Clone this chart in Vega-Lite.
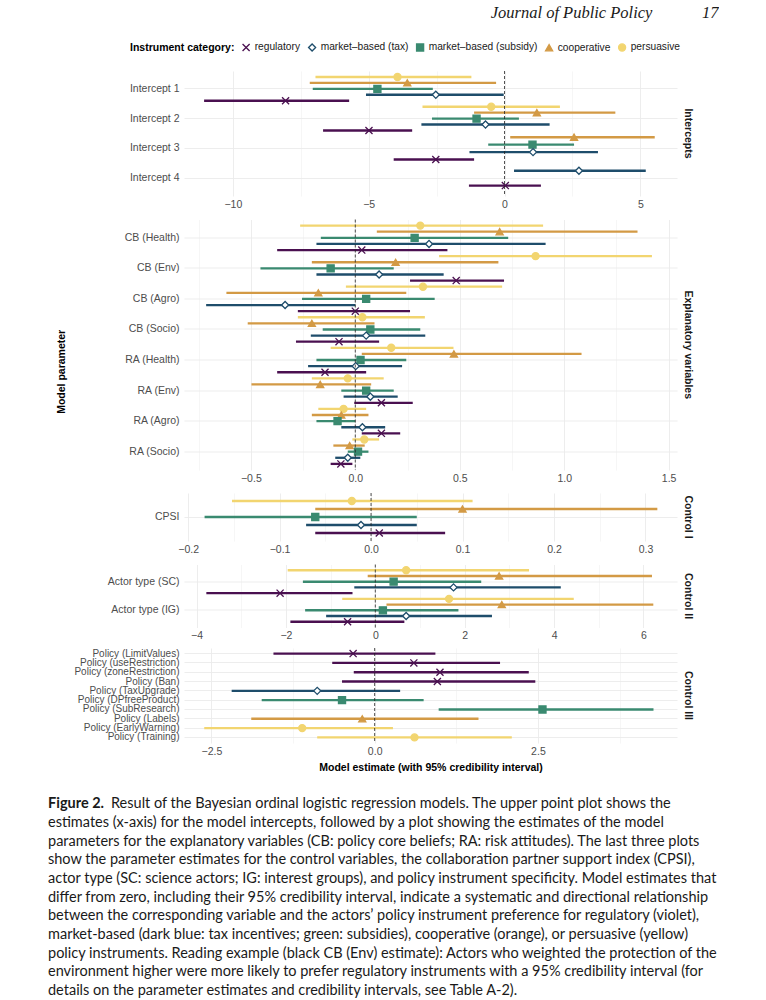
{
  "$schema": "https://vega.github.io/schema/vega-lite/v6.json",
  "padding": {"left": 48, "top": 4, "right": 0, "bottom": 0},
  "background": "white",
  "title": {"text": "Journal of Public Policy\u2003\u2003\u200317", "anchor": "end", "font": "Liberation Serif", "fontStyle": "italic", "fontWeight": "normal", "fontSize": 16.5, "color": "#1A1A1A", "offset": 21},
  "config": {
    "view": {"stroke": null},
    "font": "Liberation Sans",
    "axis": {"domain": false, "ticks": false, "tickSize": 0, "labelFont": "Liberation Sans", "labelFontSize": 10.5, "labelColor": "#4D4D4D", "gridColor": "#EBEBEB", "titleFont": "Liberation Sans", "titleFontSize": 10.5, "titleFontWeight": "bold", "titleColor": "#000000", "titlePadding": 6},
    "axisX": {"labelPadding": 3, "grid": true},
    "axisY": {"labelPadding": 5, "grid": true, "gridWidth": 0.9, "bandPosition": 0.5},
    "legend": {"orient": "none", "legendX": -54, "legendY": -29, "direction": "horizontal", "titleOrient": "left", "titleFont": "Liberation Sans", "titleFontSize": 10.5, "titleFontWeight": "bold", "titleColor": "#000000", "titlePadding": 6, "labelFont": "Liberation Sans", "labelFontSize": 10.2, "labelColor": "#1A1A1A", "labelOffset": 3.5, "columnPadding": 4, "symbolSize": 50, "symbolStrokeWidth": 1.3}
  },
  "datasets": {
    "est": [
      {"panel": "Intercepts", "param": "Intercept 1", "cat": "persuasive", "est": -3.94, "lo": -6.96, "hi": -1.22},
      {"panel": "Intercepts", "param": "Intercept 1", "cat": "cooperative", "est": -3.58, "lo": -7.17, "hi": -0.31},
      {"panel": "Intercepts", "param": "Intercept 1", "cat": "market–based (subsidy)", "est": -4.68, "lo": -7.06, "hi": -2.64},
      {"panel": "Intercepts", "param": "Intercept 1", "cat": "market–based (tax)", "est": -2.53, "lo": -5.10, "hi": -0.03},
      {"panel": "Intercepts", "param": "Intercept 1", "cat": "regulatory", "est": -8.06, "lo": -11.06, "hi": -5.72},
      {"panel": "Intercepts", "param": "Intercept 2", "cat": "persuasive", "est": -0.49, "lo": -3.02, "hi": 2.04},
      {"panel": "Intercepts", "param": "Intercept 2", "cat": "cooperative", "est": 1.19, "lo": -1.12, "hi": 4.08},
      {"panel": "Intercepts", "param": "Intercept 2", "cat": "market–based (subsidy)", "est": -1.03, "lo": -2.67, "hi": 0.53},
      {"panel": "Intercepts", "param": "Intercept 2", "cat": "market–based (tax)", "est": -0.70, "lo": -3.06, "hi": 1.66},
      {"panel": "Intercepts", "param": "Intercept 2", "cat": "regulatory", "est": -4.99, "lo": -6.68, "hi": -3.40},
      {"panel": "Intercepts3", "param": "Intercept 3", "cat": "cooperative", "est": 2.56, "lo": 0.21, "hi": 5.53},
      {"panel": "Intercepts3", "param": "Intercept 3", "cat": "market–based (subsidy)", "est": 1.03, "lo": -0.60, "hi": 2.56},
      {"panel": "Intercepts3", "param": "Intercept 3", "cat": "market–based (tax)", "est": 1.05, "lo": -1.29, "hi": 3.44},
      {"panel": "Intercepts3", "param": "Intercept 3", "cat": "regulatory", "est": -2.53, "lo": -4.08, "hi": -1.12},
      {"panel": "Intercepts4", "param": "Intercept 4", "cat": "market–based (tax)", "est": 2.74, "lo": 0.35, "hi": 5.20},
      {"panel": "Intercepts4", "param": "Intercept 4", "cat": "regulatory", "est": 0.03, "lo": -1.31, "hi": 1.34},

      {"panel": "Explanatory", "param": "CB (Health)", "cat": "persuasive", "est": 0.311, "lo": -0.264, "hi": 0.899},
      {"panel": "Explanatory", "param": "CB (Health)", "cat": "cooperative", "est": 0.691, "lo": 0.103, "hi": 1.351},
      {"panel": "Explanatory", "param": "CB (Health)", "cat": "market–based (subsidy)", "est": 0.284, "lo": -0.165, "hi": 0.732},
      {"panel": "Explanatory", "param": "CB (Health)", "cat": "market–based (tax)", "est": 0.353, "lo": -0.186, "hi": 0.911},
      {"panel": "Explanatory", "param": "CB (Health)", "cat": "regulatory", "est": 0.031, "lo": -0.374, "hi": 0.441},
      {"panel": "Explanatory", "param": "CB (Env)", "cat": "persuasive", "est": 0.863, "lo": 0.401, "hi": 1.420},
      {"panel": "Explanatory", "param": "CB (Env)", "cat": "cooperative", "est": 0.193, "lo": -0.208, "hi": 0.685},
      {"panel": "Explanatory", "param": "CB (Env)", "cat": "market–based (subsidy)", "est": -0.118, "lo": -0.454, "hi": 0.184},
      {"panel": "Explanatory", "param": "CB (Env)", "cat": "market–based (tax)", "est": 0.114, "lo": -0.186, "hi": 0.423},
      {"panel": "Explanatory", "param": "CB (Env)", "cat": "regulatory", "est": 0.483, "lo": 0.262, "hi": 0.712},
      {"panel": "Explanatory", "param": "CB (Agro)", "cat": "persuasive", "est": 0.324, "lo": -0.045, "hi": 0.703},
      {"panel": "Explanatory", "param": "CB (Agro)", "cat": "cooperative", "est": -0.177, "lo": -0.617, "hi": 0.244},
      {"panel": "Explanatory", "param": "CB (Agro)", "cat": "market–based (subsidy)", "est": 0.052, "lo": -0.255, "hi": 0.380},
      {"panel": "Explanatory", "param": "CB (Agro)", "cat": "market–based (tax)", "est": -0.336, "lo": -0.714, "hi": 0.0},
      {"panel": "Explanatory", "param": "CB (Agro)", "cat": "regulatory", "est": 0.0, "lo": -0.275, "hi": 0.262},
      {"panel": "Explanatory", "param": "CB (Socio)", "cat": "persuasive", "est": 0.034, "lo": -0.275, "hi": 0.333},
      {"panel": "Explanatory", "param": "CB (Socio)", "cat": "cooperative", "est": -0.208, "lo": -0.515, "hi": 0.092},
      {"panel": "Explanatory", "param": "CB (Socio)", "cat": "market–based (subsidy)", "est": 0.072, "lo": -0.156, "hi": 0.311},
      {"panel": "Explanatory", "param": "CB (Socio)", "cat": "market–based (tax)", "est": 0.052, "lo": -0.213, "hi": 0.335},
      {"panel": "Explanatory", "param": "CB (Socio)", "cat": "regulatory", "est": -0.078, "lo": -0.284, "hi": 0.114},
      {"panel": "Explanatory", "param": "RA (Health)", "cat": "persuasive", "est": 0.172, "lo": -0.118, "hi": 0.470},
      {"panel": "Explanatory", "param": "RA (Health)", "cat": "cooperative", "est": 0.472, "lo": 0.031, "hi": 1.083},
      {"panel": "Explanatory", "param": "RA (Health)", "cat": "market–based (subsidy)", "est": 0.025, "lo": -0.186, "hi": 0.244},
      {"panel": "Explanatory", "param": "RA (Health)", "cat": "market–based (tax)", "est": 0.002, "lo": -0.226, "hi": 0.224},
      {"panel": "Explanatory", "param": "RA (Health)", "cat": "regulatory", "est": -0.145, "lo": -0.374, "hi": 0.052},
      {"panel": "Explanatory", "param": "RA (Env)", "cat": "persuasive", "est": -0.036, "lo": -0.208, "hi": 0.136},
      {"panel": "Explanatory", "param": "RA (Env)", "cat": "cooperative", "est": -0.168, "lo": -0.497, "hi": 0.076},
      {"panel": "Explanatory", "param": "RA (Env)", "cat": "market–based (subsidy)", "est": 0.052, "lo": -0.067, "hi": 0.184},
      {"panel": "Explanatory", "param": "RA (Env)", "cat": "market–based (tax)", "est": 0.072, "lo": -0.056, "hi": 0.203},
      {"panel": "Explanatory", "param": "RA (Env)", "cat": "regulatory", "est": 0.125, "lo": -0.005, "hi": 0.275},
      {"panel": "Explanatory", "param": "RA (Agro)", "cat": "persuasive", "est": -0.056, "lo": -0.177, "hi": 0.052},
      {"panel": "Explanatory", "param": "RA (Agro)", "cat": "cooperative", "est": -0.067, "lo": -0.208, "hi": 0.063},
      {"panel": "Explanatory", "param": "RA (Agro)", "cat": "market–based (subsidy)", "est": -0.085, "lo": -0.186, "hi": 0.0},
      {"panel": "Explanatory", "param": "RA (Agro)", "cat": "market–based (tax)", "est": 0.034, "lo": -0.067, "hi": 0.143},
      {"panel": "Explanatory", "param": "RA (Agro)", "cat": "regulatory", "est": 0.125, "lo": 0.031, "hi": 0.215},
      {"panel": "Explanatory", "param": "RA (Socio)", "cat": "persuasive", "est": 0.043, "lo": -0.014, "hi": 0.114},
      {"panel": "Explanatory", "param": "RA (Socio)", "cat": "cooperative", "est": -0.027, "lo": -0.105, "hi": 0.045},
      {"panel": "Explanatory", "param": "RA (Socio)", "cat": "market–based (subsidy)", "est": 0.013, "lo": -0.036, "hi": 0.063},
      {"panel": "Explanatory", "param": "RA (Socio)", "cat": "market–based (tax)", "est": -0.036, "lo": -0.096, "hi": 0.024},
      {"panel": "Explanatory", "param": "RA (Socio)", "cat": "regulatory", "est": -0.069, "lo": -0.118, "hi": -0.014},

      {"panel": "Control I", "param": "CPSI", "cat": "persuasive", "est": -0.021, "lo": -0.152, "hi": 0.111},
      {"panel": "Control I", "param": "CPSI", "cat": "cooperative", "est": 0.100, "lo": -0.061, "hi": 0.313},
      {"panel": "Control I", "param": "CPSI", "cat": "market–based (subsidy)", "est": -0.061, "lo": -0.182, "hi": 0.050},
      {"panel": "Control I", "param": "CPSI", "cat": "market–based (tax)", "est": -0.011, "lo": -0.071, "hi": 0.050},
      {"panel": "Control I", "param": "CPSI", "cat": "regulatory", "est": 0.009, "lo": -0.061, "hi": 0.081},

      {"panel": "Control II", "param": "Actor type (SC)", "cat": "persuasive", "est": 0.69, "lo": -1.96, "hi": 3.44},
      {"panel": "Control II", "param": "Actor type (SC)", "cat": "cooperative", "est": 2.77, "lo": -0.17, "hi": 6.19},
      {"panel": "Control II", "param": "Actor type (SC)", "cat": "market–based (subsidy)", "est": 0.41, "lo": -1.62, "hi": 2.37},
      {"panel": "Control II", "param": "Actor type (SC)", "cat": "market–based (tax)", "est": 1.75, "lo": -0.47, "hi": 4.15},
      {"panel": "Control II", "param": "Actor type (SC)", "cat": "regulatory", "est": -2.13, "lo": -3.78, "hi": -0.51},
      {"panel": "Control II", "param": "Actor type (IG)", "cat": "persuasive", "est": 1.65, "lo": -0.74, "hi": 4.44},
      {"panel": "Control II", "param": "Actor type (IG)", "cat": "cooperative", "est": 2.83, "lo": 0.25, "hi": 6.22},
      {"panel": "Control II", "param": "Actor type (IG)", "cat": "market–based (subsidy)", "est": 0.17, "lo": -1.57, "hi": 1.86},
      {"panel": "Control II", "param": "Actor type (IG)", "cat": "market–based (tax)", "est": 0.69, "lo": -1.10, "hi": 2.61},
      {"panel": "Control II", "param": "Actor type (IG)", "cat": "regulatory", "est": -0.62, "lo": -1.90, "hi": 0.65},

      {"panel": "Control III", "param": "Policy (LimitValues)", "cat": "regulatory", "est": -0.33, "lo": -1.55, "hi": 0.93},
      {"panel": "Control III", "param": "Policy (useRestriction)", "cat": "regulatory", "est": 0.60, "lo": -0.65, "hi": 1.92},
      {"panel": "Control III", "param": "Policy (zoneRestriction)", "cat": "regulatory", "est": 1.00, "lo": -0.32, "hi": 2.36},
      {"panel": "Control III", "param": "Policy (Ban)", "cat": "regulatory", "est": 0.96, "lo": -0.50, "hi": 2.46},
      {"panel": "Control III", "param": "Policy (TaxUpgrade)", "cat": "market–based (tax)", "est": -0.88, "lo": -2.19, "hi": 0.39},
      {"panel": "Control III", "param": "Policy (DPfreeProduct)", "cat": "market–based (subsidy)", "est": -0.50, "lo": -1.73, "hi": 0.75},
      {"panel": "Control III", "param": "Policy (SubResearch)", "cat": "market–based (subsidy)", "est": 2.57, "lo": 0.98, "hi": 4.27},
      {"panel": "Control III", "param": "Policy (Labels)", "cat": "cooperative", "est": -0.19, "lo": -1.89, "hi": 1.59},
      {"panel": "Control III", "param": "Policy (EarlyWarning)", "cat": "persuasive", "est": -1.11, "lo": -2.61, "hi": 0.28},
      {"panel": "Control III", "param": "Policy (Training)", "cat": "persuasive", "est": 0.61, "lo": -0.88, "hi": 2.10}
    ],
    "caption": [
      {"line": 1, "part": "label", "text": "Figure 2."},
      {"line": 1, "part": "lead", "text": "Result of the Bayesian ordinal logistic regression models. The upper point plot shows the"},
      {"line": 2, "part": "body", "text": "estimates (x-axis) for the model intercepts, followed by a plot showing the estimates of the model"},
      {"line": 3, "part": "body", "text": "parameters for the explanatory variables (CB: policy core beliefs; RA: risk attitudes). The last three plots"},
      {"line": 4, "part": "body", "text": "show the parameter estimates for the control variables, the collaboration partner support index (CPSI),"},
      {"line": 5, "part": "body", "text": "actor type (SC: science actors; IG: interest groups), and policy instrument specificity. Model estimates that"},
      {"line": 6, "part": "body", "text": "differ from zero, including their 95% credibility interval, indicate a systematic and directional relationship"},
      {"line": 7, "part": "body", "text": "between the corresponding variable and the actors’ policy instrument preference for regulatory (violet),"},
      {"line": 8, "part": "body", "text": "market-based (dark blue: tax incentives; green: subsidies), cooperative (orange), or persuasive (yellow)"},
      {"line": 9, "part": "body", "text": "policy instruments. Reading example (black CB (Env) estimate): Actors who weighted the protection of the"},
      {"line": 10, "part": "body", "text": "environment higher were more likely to prefer regulatory instruments with a 95% credibility interval (for"},
      {"line": 11, "part": "body", "text": "details on the parameter estimates and credibility intervals, see Table A-2)."}
    ]
  },
  "spacing": 22,
  "resolve": {"scale": {"color": "shared", "shape": "shared", "fill": "shared"}},
  "vconcat": [
    {
      "title": {"text": "Model parameter", "orient": "left", "anchor": "middle", "font": "Liberation Sans", "fontSize": 10.5, "fontWeight": "bold", "color": "#000000", "offset": 6, "dx": 50},
      "spacing": 6,
      "resolve": {"scale": {"color": "shared", "shape": "shared", "fill": "shared", "x": "independent", "y": "independent", "yOffset": "independent"}},
      "vconcat": [
        {
          "spacing": 8.5,
          "resolve": {"scale": {"color": "shared", "shape": "shared", "fill": "shared", "x": "independent", "y": "independent", "yOffset": "independent"}},
          "vconcat": [
            {
              "width": 493, "height": 125,
              "title": {"text": "Intercepts", "orient": "right", "anchor": "middle", "font": "Liberation Sans", "fontSize": 10.5, "fontWeight": "bold", "color": "#1A1A1A", "offset": 5},
              "resolve": {"scale": {"yOffset": "independent"}},
              "layer": [
                {
                  "data": {"name": "est"},
                  "transform": [{"filter": "datum.panel === 'Intercepts'"}],
                  "encoding": {
                    "y": {"field": "param", "type": "nominal", "title": null, "scale": {"domain": ["Intercept 1", "Intercept 2", "Intercept 3", "Intercept 4"], "paddingInner": 0, "paddingOuter": 0.1}},
                    "yOffset": {"field": "cat", "type": "nominal", "sort": ["persuasive", "cooperative", "market–based (subsidy)", "market–based (tax)", "regulatory"], "scale": {"paddingInner": 0, "paddingOuter": 0}},
                    "color": {"field": "cat", "type": "nominal", "title": "Instrument category:", "scale": {"domain": ["regulatory", "market–based (tax)", "market–based (subsidy)", "cooperative", "persuasive"], "range": ["#4A1050", "#1E4D6B", "#3A8A70", "#D39A45", "#F2D570"]}}
                  },
                  "layer": [
                    {"mark": {"type": "rule", "strokeWidth": 2.4}, "encoding": {"x": {"field": "lo", "type": "quantitative", "title": null, "scale": {"domain": [-11.8, 6.35], "nice": false, "zero": false}, "axis": {"values": [-10, -7.5, -5, -2.5, 0, 2.5, 5], "format": "d", "labelExpr": "indexof([-10, -5, 0, 5], datum.value) < 0 ? '' : datum.label", "gridWidth": {"condition": {"test": "indexof([-10, -5, 0, 5], datum.value) >= 0", "value": 0.9}, "value": 0.45}}}, "x2": {"field": "hi"}}},
                    {"mark": {"type": "point", "opacity": 1, "size": 50, "strokeWidth": 1.3}, "encoding": {"x": {"field": "est", "type": "quantitative", "title": null}, "shape": {"field": "cat", "type": "nominal", "title": "Instrument category:", "scale": {"domain": ["regulatory", "market–based (tax)", "market–based (subsidy)", "cooperative", "persuasive"], "range": ["M-1,-1L1,1M-1,1L1,-1", "diamond", "square", "triangle-up", "circle"]}}, "fill": {"field": "cat", "type": "nominal", "title": "Instrument category:", "scale": {"domain": ["regulatory", "market–based (tax)", "market–based (subsidy)", "cooperative", "persuasive"], "range": ["#4A1050", "#FFFFFF", "#3A8A70", "#D39A45", "#F2D570"]}}}}
                  ]
                },
                {
                  "data": {"name": "est"},
                  "transform": [{"filter": "datum.panel === 'Intercepts3'"}],
                  "encoding": {
                    "y": {"field": "param", "type": "nominal", "title": null, "scale": {"domain": ["Intercept 1", "Intercept 2", "Intercept 3", "Intercept 4"], "paddingInner": 0, "paddingOuter": 0.1}},
                    "yOffset": {"field": "cat", "type": "nominal", "sort": ["persuasive", "cooperative", "market–based (subsidy)", "market–based (tax)", "regulatory"], "scale": {"paddingInner": 0, "paddingOuter": 0}},
                    "color": {"field": "cat", "type": "nominal", "title": "Instrument category:", "scale": {"domain": ["regulatory", "market–based (tax)", "market–based (subsidy)", "cooperative", "persuasive"], "range": ["#4A1050", "#1E4D6B", "#3A8A70", "#D39A45", "#F2D570"]}}
                  },
                  "layer": [
                    {"mark": {"type": "rule", "strokeWidth": 2.4}, "encoding": {"x": {"field": "lo", "type": "quantitative", "title": null}, "x2": {"field": "hi"}}},
                    {"mark": {"type": "point", "opacity": 1, "size": 50, "strokeWidth": 1.3}, "encoding": {"x": {"field": "est", "type": "quantitative", "title": null}, "shape": {"field": "cat", "type": "nominal", "title": "Instrument category:", "scale": {"domain": ["regulatory", "market–based (tax)", "market–based (subsidy)", "cooperative", "persuasive"], "range": ["M-1,-1L1,1M-1,1L1,-1", "diamond", "square", "triangle-up", "circle"]}}, "fill": {"field": "cat", "type": "nominal", "title": "Instrument category:", "scale": {"domain": ["regulatory", "market–based (tax)", "market–based (subsidy)", "cooperative", "persuasive"], "range": ["#4A1050", "#FFFFFF", "#3A8A70", "#D39A45", "#F2D570"]}}}}
                  ]
                },
                {
                  "data": {"name": "est"},
                  "transform": [{"filter": "datum.panel === 'Intercepts4'"}],
                  "encoding": {
                    "y": {"field": "param", "type": "nominal", "title": null, "scale": {"domain": ["Intercept 1", "Intercept 2", "Intercept 3", "Intercept 4"], "paddingInner": 0, "paddingOuter": 0.1}},
                    "yOffset": {"field": "cat", "type": "nominal", "sort": ["persuasive", "cooperative", "market–based (subsidy)", "market–based (tax)", "regulatory"], "scale": {"paddingInner": 0, "paddingOuter": 0}},
                    "color": {"field": "cat", "type": "nominal", "title": "Instrument category:", "scale": {"domain": ["regulatory", "market–based (tax)", "market–based (subsidy)", "cooperative", "persuasive"], "range": ["#4A1050", "#1E4D6B", "#3A8A70", "#D39A45", "#F2D570"]}}
                  },
                  "layer": [
                    {"mark": {"type": "rule", "strokeWidth": 2.4}, "encoding": {"x": {"field": "lo", "type": "quantitative", "title": null}, "x2": {"field": "hi"}}},
                    {"mark": {"type": "point", "opacity": 1, "size": 50, "strokeWidth": 1.3}, "encoding": {"x": {"field": "est", "type": "quantitative", "title": null}, "shape": {"field": "cat", "type": "nominal", "title": "Instrument category:", "scale": {"domain": ["regulatory", "market–based (tax)", "market–based (subsidy)", "cooperative", "persuasive"], "range": ["M-1,-1L1,1M-1,1L1,-1", "diamond", "square", "triangle-up", "circle"]}}, "fill": {"field": "cat", "type": "nominal", "title": "Instrument category:", "scale": {"domain": ["regulatory", "market–based (tax)", "market–based (subsidy)", "cooperative", "persuasive"], "range": ["#4A1050", "#FFFFFF", "#3A8A70", "#D39A45", "#F2D570"]}}}}
                  ]
                },
                {"data": {"values": [{"ref": 0}]}, "mark": {"type": "rule", "strokeDash": [3, 2], "strokeWidth": 0.8, "color": "#222222"}, "encoding": {"x": {"field": "ref", "type": "quantitative", "title": null}}}
              ]
            },
            {
              "width": 493, "height": 250.5,
              "title": {"text": "Explanatory variables", "orient": "right", "anchor": "middle", "font": "Liberation Sans", "fontSize": 10.5, "fontWeight": "bold", "color": "#1A1A1A", "offset": 5},
              "layer": [
                {
                  "data": {"name": "est"},
                  "transform": [{"filter": "datum.panel === 'Explanatory'"}],
                  "encoding": {
                    "y": {"field": "param", "type": "nominal", "title": null, "scale": {"domain": ["CB (Health)", "CB (Env)", "CB (Agro)", "CB (Socio)", "RA (Health)", "RA (Env)", "RA (Agro)", "RA (Socio)"], "paddingInner": 0, "paddingOuter": 0.1}},
                    "yOffset": {"field": "cat", "type": "nominal", "sort": ["persuasive", "cooperative", "market–based (subsidy)", "market–based (tax)", "regulatory"], "scale": {"paddingInner": 0, "paddingOuter": 0}},
                    "color": {"field": "cat", "type": "nominal", "title": "Instrument category:", "scale": {"domain": ["regulatory", "market–based (tax)", "market–based (subsidy)", "cooperative", "persuasive"], "range": ["#4A1050", "#1E4D6B", "#3A8A70", "#D39A45", "#F2D570"]}}
                  },
                  "layer": [
                    {"mark": {"type": "rule", "strokeWidth": 2.3}, "encoding": {"x": {"field": "lo", "type": "quantitative", "title": null, "scale": {"domain": [-0.82, 1.54], "nice": false, "zero": false}, "axis": {"values": [-0.75, -0.5, -0.25, 0, 0.25, 0.5, 0.75, 1, 1.25, 1.5], "format": ".1f", "labelExpr": "indexof([-0.5, 0, 0.5, 1, 1.5], datum.value) < 0 ? '' : datum.label", "gridWidth": {"condition": {"test": "indexof([-0.5, 0, 0.5, 1, 1.5], datum.value) >= 0", "value": 0.9}, "value": 0.45}}}, "x2": {"field": "hi"}}},
                    {"mark": {"type": "point", "opacity": 1, "size": 50, "strokeWidth": 1.3}, "encoding": {"x": {"field": "est", "type": "quantitative", "title": null}, "shape": {"field": "cat", "type": "nominal", "title": "Instrument category:", "scale": {"domain": ["regulatory", "market–based (tax)", "market–based (subsidy)", "cooperative", "persuasive"], "range": ["M-1,-1L1,1M-1,1L1,-1", "diamond", "square", "triangle-up", "circle"]}}, "fill": {"field": "cat", "type": "nominal", "title": "Instrument category:", "scale": {"domain": ["regulatory", "market–based (tax)", "market–based (subsidy)", "cooperative", "persuasive"], "range": ["#4A1050", "#FFFFFF", "#3A8A70", "#D39A45", "#F2D570"]}}}}
                  ]
                },
                {"data": {"values": [{"ref": 0}]}, "mark": {"type": "rule", "strokeDash": [3, 2], "strokeWidth": 0.8, "color": "#222222"}, "encoding": {"x": {"field": "ref", "type": "quantitative", "title": null}}}
              ]
            },
            {
              "width": 493, "height": 48,
              "title": {"text": "Control I", "orient": "right", "anchor": "middle", "font": "Liberation Sans", "fontSize": 10.5, "fontWeight": "bold", "color": "#1A1A1A", "offset": 5},
              "layer": [
                {
                  "data": {"name": "est"},
                  "transform": [{"filter": "datum.panel === 'Control I'"}],
                  "encoding": {
                    "y": {"field": "param", "type": "nominal", "title": null, "scale": {"domain": ["CPSI"], "paddingInner": 0, "paddingOuter": 0.1}},
                    "yOffset": {"field": "cat", "type": "nominal", "sort": ["persuasive", "cooperative", "market–based (subsidy)", "market–based (tax)", "regulatory"], "scale": {"paddingInner": 0, "paddingOuter": 0}},
                    "color": {"field": "cat", "type": "nominal", "title": "Instrument category:", "scale": {"domain": ["regulatory", "market–based (tax)", "market–based (subsidy)", "cooperative", "persuasive"], "range": ["#4A1050", "#1E4D6B", "#3A8A70", "#D39A45", "#F2D570"]}}
                  },
                  "layer": [
                    {"mark": {"type": "rule", "strokeWidth": 2.4}, "encoding": {"x": {"field": "lo", "type": "quantitative", "title": null, "scale": {"domain": [-0.2045, 0.3345], "nice": false, "zero": false}, "axis": {"values": [-0.2, -0.15, -0.1, -0.05, 0, 0.05, 0.1, 0.15, 0.2, 0.25, 0.3], "format": ".1f", "labelExpr": "indexof([-0.2, -0.1, 0, 0.1, 0.2, 0.3], datum.value) < 0 ? '' : datum.label", "gridWidth": {"condition": {"test": "indexof([-0.2, -0.1, 0, 0.1, 0.2, 0.3], datum.value) >= 0", "value": 0.9}, "value": 0.45}}}, "x2": {"field": "hi"}}},
                    {"mark": {"type": "point", "opacity": 1, "size": 50, "strokeWidth": 1.3}, "encoding": {"x": {"field": "est", "type": "quantitative", "title": null}, "shape": {"field": "cat", "type": "nominal", "title": "Instrument category:", "scale": {"domain": ["regulatory", "market–based (tax)", "market–based (subsidy)", "cooperative", "persuasive"], "range": ["M-1,-1L1,1M-1,1L1,-1", "diamond", "square", "triangle-up", "circle"]}}, "fill": {"field": "cat", "type": "nominal", "title": "Instrument category:", "scale": {"domain": ["regulatory", "market–based (tax)", "market–based (subsidy)", "cooperative", "persuasive"], "range": ["#4A1050", "#FFFFFF", "#3A8A70", "#D39A45", "#F2D570"]}}}}
                  ]
                },
                {"data": {"values": [{"ref": 0}]}, "mark": {"type": "rule", "strokeDash": [3, 2], "strokeWidth": 0.8, "color": "#222222"}, "encoding": {"x": {"field": "ref", "type": "quantitative", "title": null}}}
              ]
            },
            {
              "width": 493, "height": 63,
              "title": {"text": "Control II", "orient": "right", "anchor": "middle", "font": "Liberation Sans", "fontSize": 10.5, "fontWeight": "bold", "color": "#1A1A1A", "offset": 5},
              "layer": [
                {
                  "data": {"name": "est"},
                  "transform": [{"filter": "datum.panel === 'Control II'"}],
                  "encoding": {
                    "y": {"field": "param", "type": "nominal", "title": null, "scale": {"domain": ["Actor type (SC)", "Actor type (IG)"], "paddingInner": 0, "paddingOuter": 0.1}},
                    "yOffset": {"field": "cat", "type": "nominal", "sort": ["persuasive", "cooperative", "market–based (subsidy)", "market–based (tax)", "regulatory"], "scale": {"paddingInner": 0, "paddingOuter": 0}},
                    "color": {"field": "cat", "type": "nominal", "title": "Instrument category:", "scale": {"domain": ["regulatory", "market–based (tax)", "market–based (subsidy)", "cooperative", "persuasive"], "range": ["#4A1050", "#1E4D6B", "#3A8A70", "#D39A45", "#F2D570"]}}
                  },
                  "layer": [
                    {"mark": {"type": "rule", "strokeWidth": 2.4}, "encoding": {"x": {"field": "lo", "type": "quantitative", "title": null, "scale": {"domain": [-4.28, 6.75], "nice": false, "zero": false}, "axis": {"values": [-4, -3, -2, -1, 0, 1, 2, 3, 4, 5, 6], "format": "d", "labelExpr": "indexof([-4, -2, 0, 2, 4, 6], datum.value) < 0 ? '' : datum.label", "gridWidth": {"condition": {"test": "indexof([-4, -2, 0, 2, 4, 6], datum.value) >= 0", "value": 0.9}, "value": 0.45}}}, "x2": {"field": "hi"}}},
                    {"mark": {"type": "point", "opacity": 1, "size": 50, "strokeWidth": 1.3}, "encoding": {"x": {"field": "est", "type": "quantitative", "title": null}, "shape": {"field": "cat", "type": "nominal", "title": "Instrument category:", "scale": {"domain": ["regulatory", "market–based (tax)", "market–based (subsidy)", "cooperative", "persuasive"], "range": ["M-1,-1L1,1M-1,1L1,-1", "diamond", "square", "triangle-up", "circle"]}}, "fill": {"field": "cat", "type": "nominal", "title": "Instrument category:", "scale": {"domain": ["regulatory", "market–based (tax)", "market–based (subsidy)", "cooperative", "persuasive"], "range": ["#4A1050", "#FFFFFF", "#3A8A70", "#D39A45", "#F2D570"]}}}}
                  ]
                },
                {"data": {"values": [{"ref": 0}]}, "mark": {"type": "rule", "strokeDash": [3, 2], "strokeWidth": 0.8, "color": "#222222"}, "encoding": {"x": {"field": "ref", "type": "quantitative", "title": null}}}
              ]
            }
          ]
        },
        {
          "width": 493, "height": 95,
          "title": {"text": "Control III", "orient": "right", "anchor": "middle", "font": "Liberation Sans", "fontSize": 10.5, "fontWeight": "bold", "color": "#1A1A1A", "offset": 5},
          "layer": [
            {
              "data": {"name": "est"},
              "transform": [{"filter": "datum.panel === 'Control III'"}],
              "encoding": {
                "y": {"field": "param", "type": "nominal", "title": null, "scale": {"domain": ["Policy (LimitValues)", "Policy (useRestriction)", "Policy (zoneRestriction)", "Policy (Ban)", "Policy (TaxUpgrade)", "Policy (DPfreeProduct)", "Policy (SubResearch)", "Policy (Labels)", "Policy (EarlyWarning)", "Policy (Training)"], "paddingInner": 0, "paddingOuter": 0.1}, "axis": {"labelFontSize": 10}},
                "color": {"field": "cat", "type": "nominal", "title": "Instrument category:", "scale": {"domain": ["regulatory", "market–based (tax)", "market–based (subsidy)", "cooperative", "persuasive"], "range": ["#4A1050", "#1E4D6B", "#3A8A70", "#D39A45", "#F2D570"]}}
              },
              "layer": [
                {"mark": {"type": "rule", "strokeWidth": 2.4}, "encoding": {"x": {"field": "lo", "type": "quantitative", "title": "Model estimate (with 95% credibility interval)", "scale": {"domain": [-2.92, 4.63], "nice": false, "zero": false}, "axis": {"values": [-2.5, -1.25, 0, 1.25, 2.5, 3.75], "format": ".1f", "labelExpr": "indexof([-2.5, 0, 2.5], datum.value) < 0 ? '' : datum.label", "gridWidth": {"condition": {"test": "indexof([-2.5, 0, 2.5], datum.value) >= 0", "value": 0.9}, "value": 0.45}, "titlePadding": 6}}, "x2": {"field": "hi"}}},
                {"mark": {"type": "point", "opacity": 1, "size": 50, "strokeWidth": 1.3}, "encoding": {"x": {"field": "est", "type": "quantitative", "title": "Model estimate (with 95% credibility interval)"}, "shape": {"field": "cat", "type": "nominal", "title": "Instrument category:", "scale": {"domain": ["regulatory", "market–based (tax)", "market–based (subsidy)", "cooperative", "persuasive"], "range": ["M-1,-1L1,1M-1,1L1,-1", "diamond", "square", "triangle-up", "circle"]}}, "fill": {"field": "cat", "type": "nominal", "title": "Instrument category:", "scale": {"domain": ["regulatory", "market–based (tax)", "market–based (subsidy)", "cooperative", "persuasive"], "range": ["#4A1050", "#FFFFFF", "#3A8A70", "#D39A45", "#F2D570"]}}}}
              ]
            },
            {"data": {"values": [{"ref": 0}]}, "mark": {"type": "rule", "strokeDash": [3, 2], "strokeWidth": 0.8, "color": "#222222"}, "encoding": {"x": {"field": "ref", "type": "quantitative", "title": "Model estimate (with 95% credibility interval)"}}}
          ]
        }
      ]
    },
    {
      "width": 534, "height": 196,
      "data": {"name": "caption"},
      "encoding": {
        "x": {"datum": 0, "type": "quantitative", "scale": {"domain": [0, 1]}, "axis": null},
        "y": {"field": "line", "type": "quantitative", "scale": {"domain": [0.5, 11], "reverse": true, "nice": false, "zero": false}, "axis": null},
        "text": {"field": "text"}
      },
      "layer": [
        {"transform": [{"filter": "datum.part === 'label'"}], "mark": {"type": "text", "align": "left", "baseline": "middle", "font": "Lato", "fontSize": 14.5, "fontWeight": "bold", "color": "#1A1A1A", "dx": -136}},
        {"transform": [{"filter": "datum.part === 'lead'"}], "mark": {"type": "text", "align": "left", "baseline": "middle", "font": "Lato", "fontSize": 14.5, "color": "#1A1A1A", "dx": -73}},
        {"transform": [{"filter": "datum.part === 'body'"}], "mark": {"type": "text", "align": "left", "baseline": "middle", "font": "Lato", "fontSize": 14.5, "color": "#1A1A1A", "dx": -136}}
      ]
    }
  ]
}
